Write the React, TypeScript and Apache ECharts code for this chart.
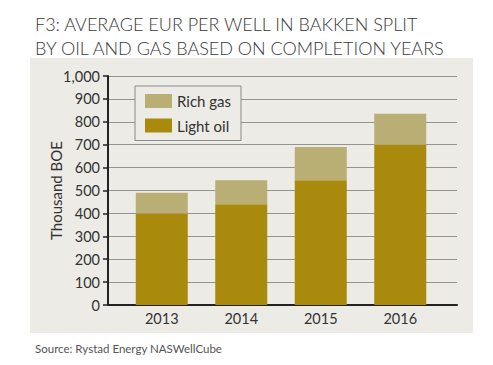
import React, { useEffect, useRef } from "react";
import * as echarts from "echarts";

const years = ["2013", "2014", "2015", "2016"];
const lightOil = [400, 440, 545, 700];
const richGas = [90, 105, 145, 135];
const yTicks = { min: 0, max: 1000, interval: 100 };
const titleLines = [
  "F3: AVERAGE EUR PER WELL IN BAKKEN SPLIT",
  "BY OIL AND GAS BASED ON COMPLETION YEARS",
];
const sourceText = "Source: Rystad Energy NASWellCube";
const yName = "Thousand BOE";

const FONT = "Lato, 'Noto Sans', sans-serif";
const PANEL = "#ecebe5";

export default function App() {
  const ref = useRef<HTMLDivElement>(null);
  useEffect(() => {
    if (!ref.current) return;
    const chart = echarts.init(ref.current, null, { renderer: "svg" });
    chart.setOption({
      animation: false,
      backgroundColor: "#ffffff",
      textStyle: { fontFamily: FONT },
      title: [
        {
          text: titleLines.join("\n"),
          left: 30,
          top: 7,
          textStyle: {
            fontFamily: FONT,
            fontSize: 18,
            fontWeight: 300,
            color: "#3a3a3a",
            lineHeight: 24,
          },
        },
        {
          text: sourceText,
          left: 30,
          top: 337,
          textStyle: {
            fontFamily: FONT,
            fontSize: 11.5,
            fontWeight: "normal",
            color: "#555555",
          },
        },
      ],
      graphic: [
        {
          type: "rect",
          z: -10,
          silent: true,
          shape: { x: 30, y: 58, width: 443, height: 275 },
          style: { fill: PANEL },
        },
      ],
      legend: {
        data: ["Rich gas", "Light oil"],
        orient: "vertical",
        left: 135,
        top: 86,
        itemWidth: 27,
        itemHeight: 14,
        itemGap: 9.5,
        padding: [7.5, 10, 7.5, 10],
        borderColor: "#8a8a8a",
        borderWidth: 1,
        backgroundColor: PANEL,
        textStyle: { fontFamily: FONT, fontSize: 15, color: "#333333" },
        icon: "rect",
      },
      grid: [
        { left: 108, right: 36, top: 76, bottom: 60 },
        { left: 122, right: 53, top: 76, bottom: 60 },
      ],
      xAxis: [
        {
          gridIndex: 0,
          type: "value",
          min: 0,
          max: 1,
          axisLine: { show: true, lineStyle: { color: "#222222", width: 2 } },
          axisTick: { show: false },
          axisLabel: { show: false },
          splitLine: { show: false },
        },
        {
          gridIndex: 1,
          type: "category",
          data: years,
          axisLine: { show: false },
          axisTick: { show: false },
          axisLabel: {
            fontFamily: FONT,
            fontSize: 14.5,
            color: "#333333",
            margin: 6,
          },
        },
      ],
      yAxis: [
        {
          gridIndex: 0,
          type: "value",
          min: yTicks.min,
          max: yTicks.max,
          interval: yTicks.interval,
          name: yName,
          nameLocation: "middle",
          nameGap: 45,
          nameMoveOverlap: false,
          nameTextStyle: { fontFamily: FONT, fontSize: 15, color: "#333333" },
          axisLine: { show: true, lineStyle: { color: "#222222", width: 2 } },
          axisTick: {
            show: true,
            length: 5,
            lineStyle: { color: "#222222", width: 1.5 },
          },
          axisLabel: {
            fontFamily: FONT,
            fontSize: 14.5,
            color: "#333333",
            margin: 8,
            formatter: (v: number) => v.toLocaleString("en-US"),
          },
          splitLine: { show: true, lineStyle: { color: "#939393", width: 1 } },
        },
        {
          gridIndex: 1,
          type: "value",
          min: yTicks.min,
          max: yTicks.max,
          show: false,
          splitLine: { show: false },
        },
      ],
      series: [
        {
          name: "Light oil",
          type: "bar",
          stack: "total",
          xAxisIndex: 1,
          yAxisIndex: 1,
          barWidth: 52,
          data: lightOil,
          itemStyle: { color: "#a98a0c" },
        },
        {
          name: "Rich gas",
          type: "bar",
          stack: "total",
          xAxisIndex: 1,
          yAxisIndex: 1,
          barWidth: 52,
          data: richGas,
          itemStyle: { color: "#b9ae73" },
        },
      ],
    });
    return () => chart.dispose();
  }, []);
  return (
    <div
      ref={ref}
      style={{ position: "fixed", left: 0, top: 0, width: 493, height: 365 }}
    />
  );
}
